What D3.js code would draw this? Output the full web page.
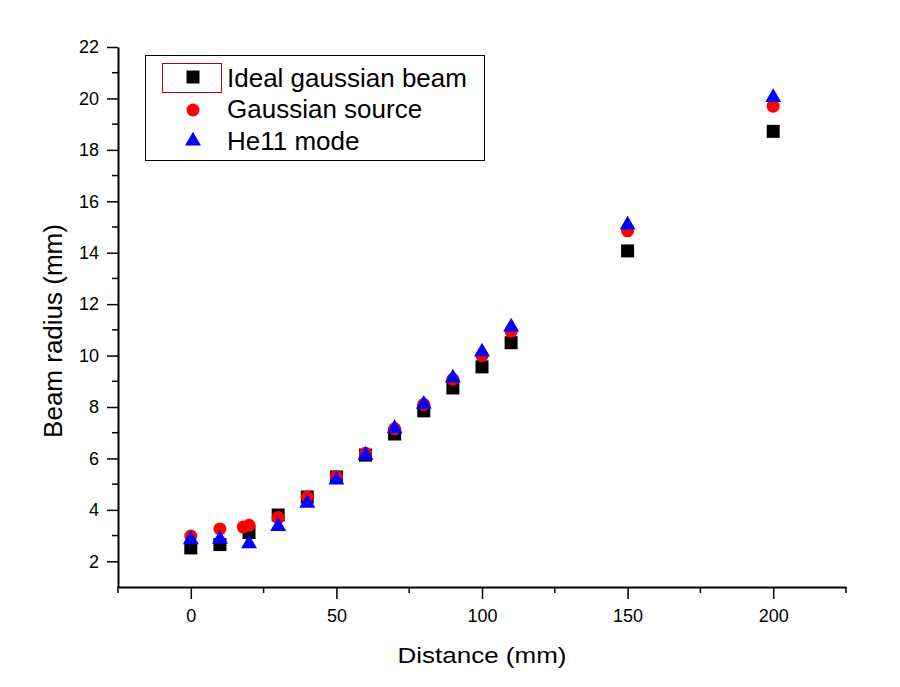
<!DOCTYPE html>
<html><head><meta charset="utf-8">
<script src="https://cdn.jsdelivr.net/npm/d3@7"></script>
<style>body{margin:0;background:#fff}svg{display:block}text{font-family:Arial,"Liberation Sans",sans-serif}</style>
</head><body>
<svg id="c" width="900" height="687"></svg>
<script>
const seriesNames = ["Ideal gaussian beam", "Gaussian source", "He11 mode"];
const idealX = [0,10,20,30,40,50,60,70,80,90,100,110,150,200];
const idealY = [2.52,2.65,3.12,3.8,4.5,5.28,6.13,6.95,7.85,8.74,9.56,10.5,14.07,18.72];
const gaussX = [0,10,18,20,30,40,50,60,70,80,90,100,110,150,200];
const gaussY = [2.98,3.26,3.33,3.4,3.7,4.5,5.3,6.2,7.15,8.1,9.08,10.0,10.95,14.85,19.7];
const he11X = [0,10,20,30,40,50,60,70,80,90,100,110,150,200];
const he11Y = [2.88,2.9,2.72,3.4,4.3,5.2,6.17,7.2,8.15,9.17,10.18,11.15,15.12,20.08];
const xTicks = [0,50,100,150,200];
const yTicks = [2,4,6,8,10,12,14,16,18,20,22];

const svg = d3.select("#c");
const x = d3.scaleLinear().domain([-25,225]).range([118,846]);
const y = d3.scaleLinear().domain([1,22]).range([587,47]);

// axes
const xAxis = d3.axisBottom(x).tickValues(xTicks).tickSize(12).tickPadding(10).tickSizeOuter(0);
const gx = svg.append("g").attr("transform","translate(0,587)").call(xAxis);
gx.selectAll("text").attr("font-size",18).attr("fill","#000");
gx.select(".domain").attr("stroke-width",2).attr("stroke","#000");
gx.selectAll(".tick line").attr("stroke-width",1.5).attr("stroke","#000");
gx.selectAll(".minor").data(d3.range(-25,226,50)).enter().append("line")
  .attr("x1",d=>x(d)).attr("x2",d=>x(d)).attr("y1",0).attr("y2",6).attr("stroke","#000").attr("stroke-width",1.5);

const yAxis = d3.axisLeft(y).tickValues(yTicks).tickSize(11).tickPadding(8).tickSizeOuter(0);
const gy = svg.append("g").attr("transform","translate(118,0)").call(yAxis);
gy.selectAll("text").attr("font-size",18).attr("fill","#000");
gy.select(".domain").attr("stroke-width",2).attr("stroke","#000");
gy.selectAll(".tick line").attr("stroke-width",1.5).attr("stroke","#000");
gy.selectAll(".minor").data(d3.range(3,22,2)).enter().append("line")
  .attr("y1",d=>y(d)).attr("y2",d=>y(d)).attr("x1",0).attr("x2",-6).attr("stroke","#000").attr("stroke-width",1.5);

// axis titles
svg.append("text").attr("x",482).attr("y",663).attr("text-anchor","middle").attr("font-size",22)
  .attr("textLength",169).attr("lengthAdjust","spacingAndGlyphs").text("Distance (mm)");
svg.append("text").attr("transform","translate(62,331) rotate(-90)").attr("text-anchor","middle").attr("font-size",26).text("Beam radius (mm)");

// markers
const sq = d3.symbol().type(d3.symbolSquare).size(169);
const ci = d3.symbol().type(d3.symbolCircle).size(133);
const tr = d3.symbol().type(d3.symbolTriangle).size(110);

svg.append("g").selectAll("path").data(idealX.map((v,i)=>[v,idealY[i]])).enter().append("path")
  .attr("d",sq).attr("fill","#000").attr("transform",d=>`translate(${x(d[0])},${y(d[1])})`);
svg.append("g").selectAll("path").data(gaussX.map((v,i)=>[v,gaussY[i]])).enter().append("path")
  .attr("d",ci).attr("fill","#ff0000").attr("transform",d=>`translate(${x(d[0])},${y(d[1])})`);
svg.append("g").selectAll("path").data(he11X.map((v,i)=>[v,he11Y[i]])).enter().append("path")
  .attr("d",tr).attr("fill","#0000ff").attr("transform",d=>`translate(${x(d[0])},${y(d[1])+1})`);

// legend
const lg = svg.append("g");
lg.append("rect").attr("x",145.5).attr("y",55.5).attr("width",339).attr("height",105).attr("fill","#fff").attr("stroke","#000").attr("stroke-width",1);
lg.append("rect").attr("x",162.5).attr("y",63.5).attr("width",59).attr("height",29).attr("fill","none").attr("stroke","#c00000").attr("stroke-width",1);
const syms = [sq, ci, tr];
const cols = ["#000","#ff0000","#0000ff"];
const rowBase = [87, 118, 150];
const markY = [77, 110, 141];
seriesNames.forEach((n,i)=>{
  lg.append("path").attr("d",syms[i]).attr("fill",cols[i]).attr("transform",`translate(193,${markY[i]})`);
  lg.append("text").attr("x",227).attr("y",rowBase[i]).attr("font-size",26).text(n);
});
</script>
</body></html>
